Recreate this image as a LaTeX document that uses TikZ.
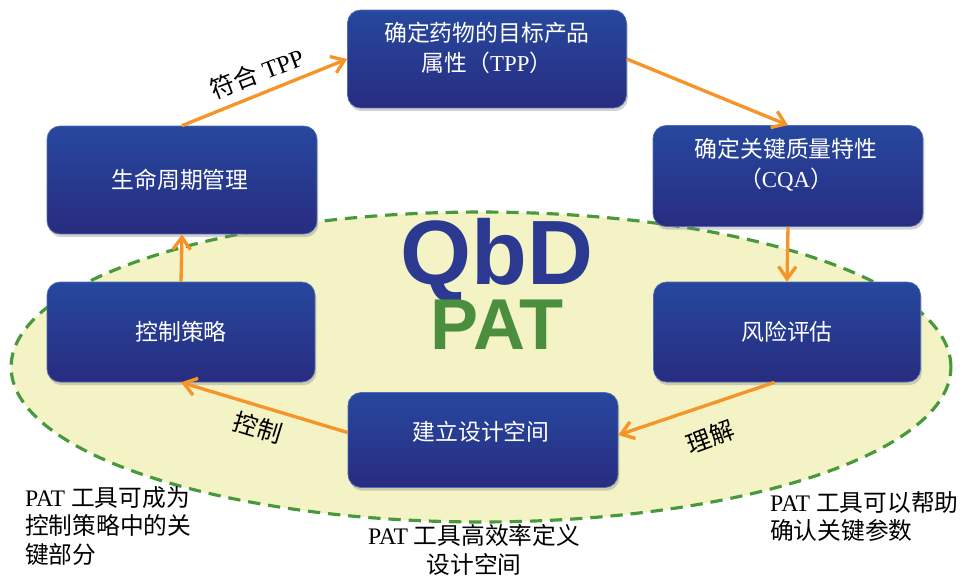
\documentclass[tikz,border=0pt]{standalone}
\usepackage{fontspec}
\setmainfont{Liberation Serif}
\newfontfamily\cjk{Noto Sans CJK SC}
\newfontfamily\bigsans{Liberation Sans}
\usetikzlibrary{arrows.meta,shadows}
\definecolor{boxtop}{RGB}{38,72,158}
\definecolor{boxbot}{RGB}{40,44,128}
\definecolor{ellfill}{RGB}{243,243,197}
\definecolor{ellline}{RGB}{72,152,60}
\definecolor{arr}{RGB}{246,148,40}
\definecolor{qbdblue}{RGB}{43,57,144}
\definecolor{patgreen}{RGB}{74,142,62}
\begin{document}
\begin{tikzpicture}[x=0.02cm,y=-0.02cm,
  bluebox/.style={rectangle, rounded corners=0.26cm, top color=boxtop, bottom color=boxbot,
    draw=boxtop!80!white, line width=0.4pt,
    drop shadow={opacity=0.35, shadow xshift=0.8pt, shadow yshift=-1.8pt}},
  boxtext/.style={text=white, font=\fontsize{13}{17}\selectfont, align=center},
  flow/.style={draw=arr, line width=1.9pt, -{Straight Barb[length=7pt,width=10pt,line width=1.9pt]}},
  elabel/.style={font=\fontsize{14}{16}\selectfont, text=black, inner sep=1pt},
  note/.style={font=\fontsize{13.5}{16.4}\selectfont, text=black, align=left}
]
\useasboundingbox (0,0) rectangle (962,579);
% ellipse
\draw[fill=ellfill, draw=ellline, line width=1.8pt, dash pattern=on 7pt off 4.5pt]
  (481,367) ellipse [x radius=9.4cm, y radius=3.1cm];
% central labels
\node[font=\bigsans\bfseries\fontsize{52}{52}\selectfont, text=qbdblue] (qbd) at (497,260) {QbD};
\node[font=\bigsans\bfseries\fontsize{41}{41}\selectfont, text=patgreen] (pat) at (497,325) {PAT};
% boxes
\node[bluebox, minimum width=5.58cm, minimum height=1.96cm] (tpp) at (487,59) {};
\node[bluebox, minimum width=5.40cm, minimum height=2.16cm] (life) at (182,180) {};
\node[bluebox, minimum width=5.40cm, minimum height=2.02cm] (cqa) at (788,176) {};
\node[bluebox, minimum width=5.34cm, minimum height=2.00cm] (risk) at (787,332) {};
\node[bluebox, minimum width=5.36cm, minimum height=2.00cm] (ctrl) at (181,332) {};
\node[bluebox, minimum width=5.40cm, minimum height=1.90cm] (ds) at (483,440) {};
% box texts
\node[boxtext] (tppt) at (487,48) {\cjk 确定药物的目标产品\\\cjk 属性（\rmfamily TPP\cjk ）};
\node[boxtext] (lifet) at (180,180) {\cjk 生命周期管理};
\node[boxtext] (cqat) at (786,165) {\cjk 确定关键质量特性\\\cjk （\rmfamily CQA\cjk ）};
\node[boxtext] (riskt) at (787,332) {\cjk 风险评估};
\node[boxtext] (ctrlt) at (181,332) {\cjk 控制策略};
\node[boxtext] (dst) at (481,432) {\cjk 建立设计空间};
% arrows
\draw[flow] (life.north) -- (tpp.west);
\draw[flow] (tpp.east) -- (cqa.north);
\draw[flow] (cqa.south) -- (risk.north);
\draw[flow] ([xshift=-0.25cm]risk.south) -- ([yshift=0.1cm]ds.east);
\draw[flow] ([yshift=0.15cm]ds.west) -- (ctrl.south);
\draw[flow] (ctrl.north) -- (life.south);
% arrow labels
\node[elabel, rotate=21] (l1) at (257,73) {\cjk 符合\rmfamily\ TPP};
\node[elabel, rotate=-17] (l2) at (258,428) {\cjk 控制};
\node[elabel, rotate=20] (l3) at (710,437) {\cjk 理解};
% notes
\node[note, anchor=north west] (n1) at (19,480) {\rmfamily PAT \cjk 工具可成为\\\cjk 控制策略中的关\\\cjk 键部分};
\node[note, align=center] (n2) at (474,550) {\rmfamily PAT \cjk 工具高效率定义\\\cjk 设计空间};
\node[note, anchor=north west] (n3) at (764,485) {\rmfamily PAT \cjk 工具可以帮助\\\cjk 确认关键参数};
\end{tikzpicture}
\end{document}
